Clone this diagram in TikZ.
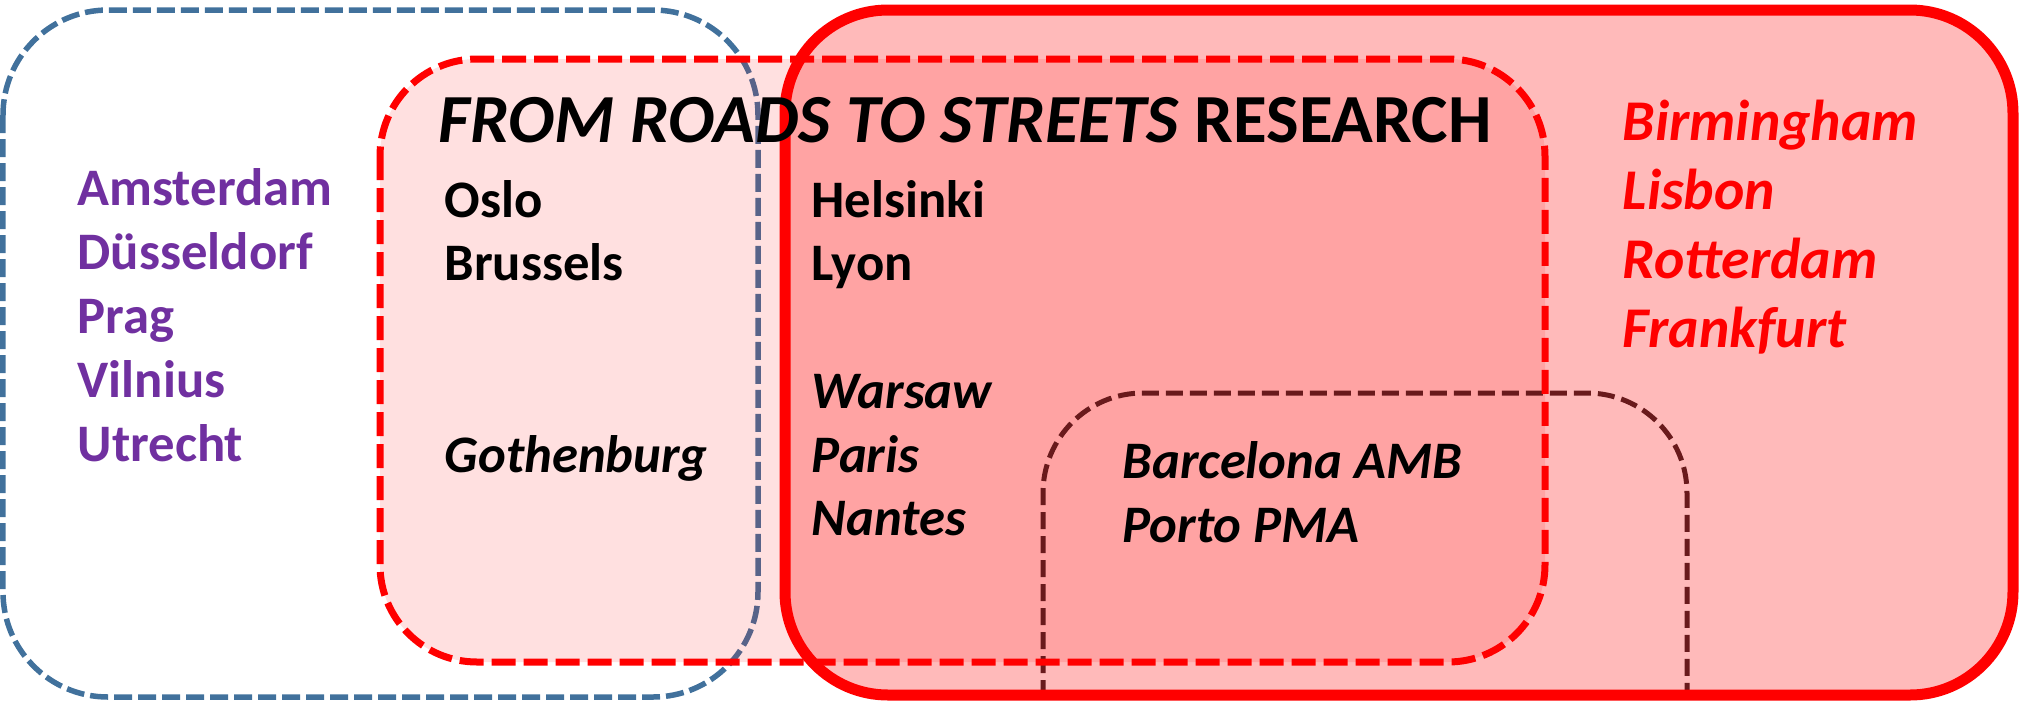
\documentclass[tikz,border=0pt]{standalone}
\usepackage{fontspec}
\setmainfont{Carlito}
\definecolor{setblue}{RGB}{65,113,156}
\definecolor{setbrown}{RGB}{105,26,28}
\definecolor{citypurple}{RGB}{112,48,160}
\begin{document}
\begin{tikzpicture}[x=0.1mm, y=-0.1mm, line join=round,
		city/.style={anchor=base west, inner sep=0pt, font=\fontsize{15}{18}\selectfont\bfseries},
		redcity/.style={city, text=red, font=\fontsize{16.4}{19}\selectfont\bfseries\itshape},
		headline/.style={anchor=base west, inner sep=0pt, font=\fontsize{19.6}{23}\selectfont\bfseries}]
	\useasboundingbox (0,0) rectangle (2023,700);
	\path
		(3,10) coordinate (B1)
		(758,697) coordinate (B2)
		(380,59) coordinate (D1)
		(1545,662) coordinate (D2)
		(785,10) coordinate (S1)
		(2013,695) coordinate (S2)
		(1043,697) coordinate (P0)
		(1043,393) coordinate (P1)
		(1687,393) coordinate (P2)
		(1687,697) coordinate (P3)
	;
	
	\fill[red, opacity=0.27, rounded corners=10.3mm] (S1) rectangle (S2);
	\draw[setblue, line width=0.55mm, dash pattern=on 1.8mm off 0.6mm, rounded corners=10.5mm]
		(B1) rectangle (B2);
	\fill[red, opacity=0.12, rounded corners=9.7mm] (D1) rectangle (D2);
	\draw[setbrown, line width=0.5mm, dash pattern=on 1.7mm off 0.7mm, rounded corners=10mm]
		(P0) -- (P1) -- (P2) -- (P3);
	\draw[red, line width=0.7mm, dash pattern=on 2.4mm off 0.8mm, rounded corners=9.7mm]
		(D1) rectangle (D2);
	\draw[red, line width=1.1mm, rounded corners=10.3mm] (S1) rectangle (S2);
	
	\node[headline] (title) at (438,142) {\itshape FROM ROADS TO STREETS\/ \upshape RESEARCH};
	
	\foreach \c [count=\i] in {Amsterdam, Düsseldorf, Prag, Vilnius, Utrecht}{
		\node[city, text=citypurple] (p\i) at (77,{205+64*(\i-1)}) {\c};
	};
	\foreach \c/\x/\y [count=\i] in {Oslo/444/217, Brussels/444/280, Helsinki/811/217, Lyon/811/280}{
		\node[city] (b\i) at (\x,\y) {\c};
	};
	\foreach \c/\x/\y [count=\i] in {Gothenburg/444/472, Warsaw/811/408, Paris/811/472, Nantes/811/535, Barcelona AMB/1122/478, Porto PMA/1122/542}{
		\node[city, font=\fontsize{15}{18}\selectfont\bfseries\itshape] (i\i) at (\x,\y) {\c};
	};
	\foreach \c [count=\i] in {Birmingham, Lisbon, Rotterdam, Frankfurt}{
		\node[redcity] (r\i) at (1622,{140+69*(\i-1)}) {\c};
	};
	
\end{tikzpicture}
\end{document}
